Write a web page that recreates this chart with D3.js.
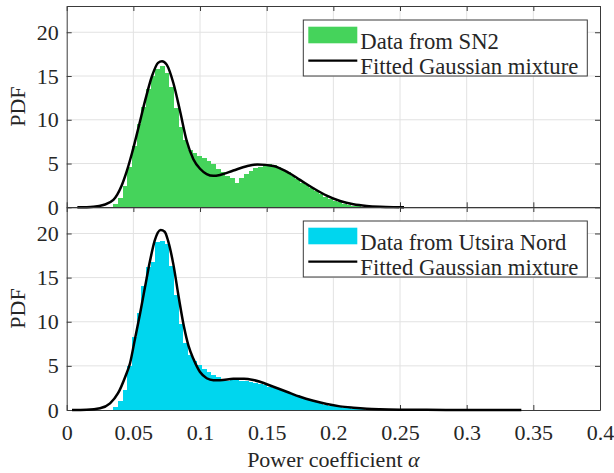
<!DOCTYPE html>
<html>
<head>
<meta charset="utf-8">
<script src="https://cdn.jsdelivr.net/npm/d3@7/dist/d3.min.js"></script>
<style>
  body { margin: 0; background: #fff; }
  svg { display: block; }
  text { font-family: "Liberation Serif", Tinos, "Times New Roman", "Nimbus Roman", "DejaVu Serif", serif; fill: #262626; }
</style>
</head>
<body>
<svg id="chart" width="614" height="473"></svg>
<script>
// Histogram bins (shared layout for both sites)
const binStart = 0.035;
const binWidth = 0.0035;

// Empirical PDF of the power-law coefficient, site SN2
const sn2Heights = [0.35, 1.1, 2.4, 4.6, 7.0, 9.5, 11.5, 13.5, 15.0, 15.8,
  16.2, 15.4, 13.7, 11.3, 9.2, 7.7, 6.5, 6.2, 5.9, 5.6,
  5.3, 4.9, 4.4, 4.0, 3.6, 3.3, 2.8, 3.3, 3.8, 4.2,
  4.45, 4.65, 5.0, 4.9, 4.8, 4.6, 4.3, 4.0, 3.6, 3.2,
  2.8, 2.5, 2.2, 1.9, 1.5, 1.2, 0.95, 0.75, 0.55, 0.4,
  0.28, 0.18, 0.12, 0.07, 0.03];

// Empirical PDF, site Utsira Nord
const utsiraHeights = [0.3, 1.0, 2.3, 5.0, 8.3, 11.0, 14.0, 16.2, 16.8, 19.0,
  19.2, 18.8, 16.3, 13.0, 9.8, 7.6, 6.2, 5.6, 5.1, 4.7,
  4.3, 3.95, 3.7, 3.3, 3.3, 3.35, 3.35, 3.3, 3.25, 3.15,
  3.05, 2.9, 2.8, 2.65, 2.5, 2.35, 2.2, 2.0, 1.85, 1.65,
  1.45, 1.25, 1.05, 0.9, 0.75, 0.6, 0.5, 0.4, 0.32, 0.25,
  0.18, 0.13, 0.09, 0.06, 0.04, 0.03, 0.02, 0.015, 0.01];

// Fitted Gaussian mixture, sampled [alpha, pdf]
const sn2Fit = [[0.008, 0], [0.015, 0.01], [0.02, 0.05], [0.0275, 0.26], [0.035, 0.84],
  [0.041, 2.4], [0.045, 4.1], [0.049, 6.2], [0.054, 9.2], [0.059, 12.3],
  [0.064, 15.0], [0.0685, 16.5], [0.0715, 16.7], [0.075, 16.3], [0.08, 14.2],
  [0.085, 11.0], [0.09, 7.6], [0.095, 5.5], [0.1, 4.4], [0.105, 3.8],
  [0.11, 3.6], [0.115, 3.7], [0.125, 4.2], [0.135, 4.7], [0.143, 4.9],
  [0.155, 4.73], [0.165, 4.08], [0.175, 3.13], [0.185, 2.18], [0.195, 1.33],
  [0.205, 0.72], [0.215, 0.34], [0.225, 0.15], [0.235, 0.06], [0.245, 0.02], [0.253, 0.01]];

const utsiraFit = [[0.004, 0], [0.015, 0.03], [0.025, 0.19], [0.0325, 0.75], [0.0385, 1.9],
  [0.044, 3.8], [0.0475, 5.3], [0.051, 7.9], [0.055, 10.9], [0.0587, 13.9],
  [0.0625, 16.9], [0.066, 19.2], [0.0705, 20.4], [0.0735, 20.2], [0.076, 19.2],
  [0.08, 16.5], [0.084, 12.8], [0.088, 9.4], [0.0915, 7.2], [0.095, 5.8],
  [0.1, 4.3], [0.105, 3.6], [0.11, 3.38], [0.115, 3.38], [0.125, 3.53],
  [0.133, 3.55], [0.14, 3.4], [0.145, 3.2], [0.155, 2.63], [0.165, 2.07],
  [0.175, 1.5], [0.185, 1.05], [0.195, 0.68], [0.205, 0.41], [0.215, 0.26],
  [0.225, 0.15], [0.235, 0.09], [0.25, 0.04], [0.27, 0.015], [0.3, 0.005], [0.341, 0]];

const xTickValues = [0, 0.05, 0.1, 0.15, 0.2, 0.25, 0.3, 0.35, 0.4];
const xTickLabels = ["0", "0.05", "0.1", "0.15", "0.2", "0.25", "0.3", "0.35", "0.4"];
const yTickValues = [0, 5, 10, 15, 20];
const yTickLabels = ["0", "5", "10", "15", "20"];

const seriesNames = ["Data from SN2", "Data from Utsira Nord"];
const fitName = "Fitted Gaussian mixture";
const xLabel = "Power coefficient ";
const yLabel = "PDF";

const serif = '"Liberation Serif", Tinos, "Times New Roman", "Nimbus Roman", "DejaVu Serif", serif';
const svg = d3.select("#chart");
const left = 66.7, right = 600;
const fontSize = 22;

const x = d3.scaleLinear().domain([0, 0.4]).range([left, right]);

const panels = [
  { top: 6, bottom: 207.3, heights: sn2Heights, fit: sn2Fit, color: "#45d35b", name: seriesNames[0], showX: false },
  { top: 207, bottom: 410, heights: utsiraHeights, fit: utsiraFit, color: "#00d6ee", name: seriesNames[1], showX: true }
];

panels.forEach(p => {
  const y = d3.scaleLinear().domain([0, 23]).range([p.bottom, p.top]);
  const g = svg.append("g");

  // grid
  g.append("g").selectAll("line").data(xTickValues.slice(1, -1)).join("line")
    .attr("x1", d => x(d)).attr("x2", d => x(d))
    .attr("y1", p.top).attr("y2", p.bottom)
    .attr("stroke", "#e2e2e2").attr("stroke-width", 1);
  g.append("g").selectAll("line").data(yTickValues.slice(1)).join("line")
    .attr("x1", left).attr("x2", right)
    .attr("y1", d => y(d)).attr("y2", d => y(d))
    .attr("stroke", "#e2e2e2").attr("stroke-width", 1);

  // axes with inward ticks on all four sides
  const styleAxis = sel => {
    sel.attr("font-family", serif);
    sel.selectAll("path.domain").attr("stroke", "#3a3a3a").attr("stroke-width", 1);
    sel.selectAll(".tick line").attr("stroke", "#3a3a3a").attr("stroke-width", 1);
    sel.selectAll(".tick text").style("font-size", fontSize + "px")
      .style("font-family", serif).attr("fill", "#262626");
  };

  const yAxis = d3.axisLeft(y).tickValues(yTickValues)
    .tickFormat((d, i) => yTickLabels[i]).tickSizeInner(-5).tickSizeOuter(0).tickPadding(8);
  g.append("g").attr("transform", `translate(${left},0)`).call(yAxis).call(styleAxis);

  const yAxisR = d3.axisRight(y).tickValues(yTickValues).tickFormat("")
    .tickSizeInner(-5).tickSizeOuter(0);
  g.append("g").attr("transform", `translate(${right},0)`).call(yAxisR).call(styleAxis);

  const xAxisT = d3.axisTop(x).tickValues(xTickValues).tickFormat("")
    .tickSizeInner(-5).tickSizeOuter(0);
  g.append("g").attr("transform", `translate(0,${p.top})`).call(xAxisT).call(styleAxis);

  const xAxisB = d3.axisBottom(x).tickValues(xTickValues)
    .tickFormat((d, i) => p.showX ? xTickLabels[i] : "")
    .tickSizeInner(-5).tickSizeOuter(0).tickPadding(14);
  g.append("g").attr("transform", `translate(0,${p.bottom})`).call(xAxisB).call(styleAxis);

  // histogram bars
  g.append("g").selectAll("rect").data(p.heights).join("rect")
    .attr("x", (d, i) => x(binStart + i * binWidth))
    .attr("width", (d, i) => x(binStart + (i + 1) * binWidth) - x(binStart + i * binWidth))
    .attr("y", d => y(d))
    .attr("height", d => y(0) - y(d))
    .attr("fill", p.color)
    .attr("shape-rendering", "crispEdges");

  // fitted curve
  const line = d3.line().x(d => x(d[0])).y(d => y(d[1])).curve(d3.curveMonotoneX);
  g.append("path").datum(p.fit).attr("d", line)
    .attr("fill", "none").attr("stroke", "#000").attr("stroke-width", 2.5)
    .attr("stroke-linejoin", "round");

  // y label
  g.append("text")
    .attr("transform", `translate(25,${(p.top + p.bottom) / 2}) rotate(-90)`)
    .attr("text-anchor", "middle")
    .style("font-family", serif)
    .style("font-size", fontSize + "px")
    .text(yLabel);

  // legend
  const lg = g.append("g").attr("transform", `translate(303.3,${p.top + 14})`);
  lg.append("rect").attr("x", 0).attr("y", 0).attr("width", 284).attr("height", 56)
    .attr("fill", "#fff").attr("stroke", "#3a3a3a").attr("stroke-width", 1);
  lg.append("rect").attr("x", 5).attr("y", 6.7).attr("width", 49).attr("height", 16.6)
    .attr("fill", p.color);
  lg.append("text").attr("x", 57).attr("y", 29.3)
    .style("font-family", serif).style("font-size", "22.7px").text(p.name);
  lg.append("line").attr("x1", 5).attr("x2", 54).attr("y1", 40.7).attr("y2", 40.7)
    .attr("stroke", "#000").attr("stroke-width", 2.2);
  lg.append("text").attr("x", 57).attr("y", 54.3)
    .style("font-family", serif).style("font-size", "22.7px").text(fitName);
});

// x label
const xl = svg.append("text")
  .attr("x", (left + right) / 2).attr("y", 467)
  .attr("text-anchor", "middle")
  .style("font-family", serif)
  .style("font-size", fontSize + "px");
xl.append("tspan").text(xLabel);
xl.append("tspan").style("font-style", "italic").text("α");
</script>
</body>
</html>
